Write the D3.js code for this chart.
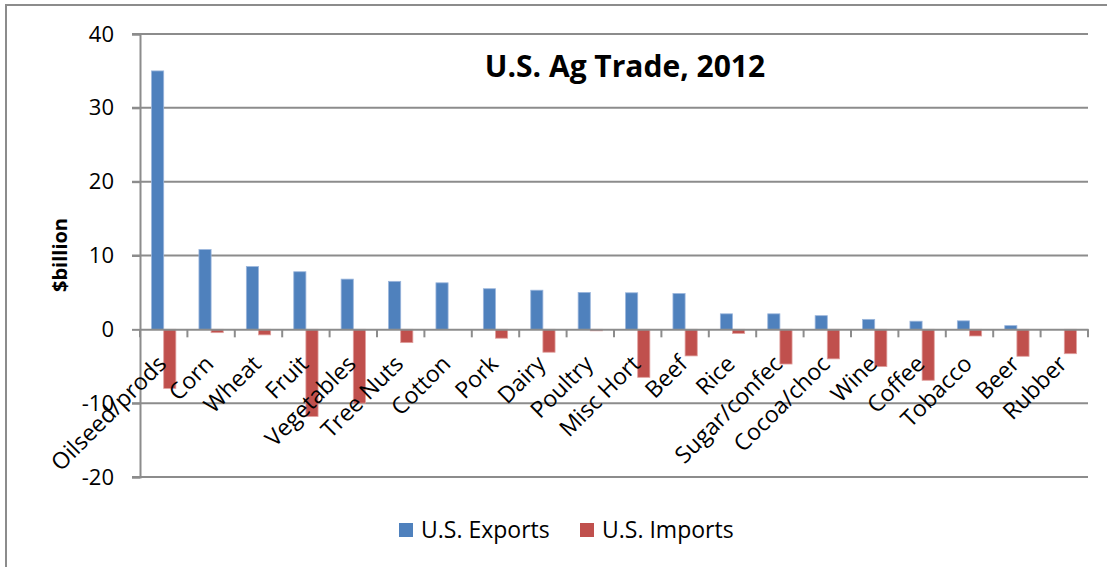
<!DOCTYPE html>
<html>
<head>
<meta charset="utf-8">
<script src="https://cdn.jsdelivr.net/npm/d3@7"></script>
<style>
  body { margin: 0; background: #fff; }
  text { font-family: "Open Sans", "Liberation Sans", sans-serif; fill: #000; }
</style>
</head>
<body>
<div id="chart"></div>
<script>
var categories = ["Oilseed/prods", "Corn", "Wheat", "Fruit", "Vegetables", "Tree Nuts", "Cotton",
    "Pork", "Dairy", "Poultry", "Misc Hort", "Beef", "Rice", "Sugar/confec", "Cocoa/choc",
    "Wine", "Coffee", "Tobacco", "Beer", "Rubber"];
var exports = [35.0, 10.8, 8.5, 7.8, 6.8, 6.5, 6.3, 5.5, 5.3, 5.0, 4.95, 4.85, 2.1, 2.1, 1.85, 1.35, 1.1, 1.15, 0.5, 0];
var imports = [-8.0, -0.45, -0.75, -11.8, -10.0, -1.8, 0, -1.2, -3.1, -0.2, -6.5, -3.6, -0.55, -4.7, -4.0, -5.05, -6.9, -0.9, -3.65, -3.3];
var yTicks = [-20, -10, 0, 10, 20, 30, 40];
var seriesNames = ["U.S. Exports", "U.S. Imports"];
var colors = ["#4F81BD", "#C0504D"];

var svgWidth = 1107;
var svgHeight = 567;
var margin = {top: 34, right: 19, bottom: 90, left: 140};
var width = svgWidth - margin.left - margin.right;
var height = 477 - margin.top;

var svg = d3.select("#chart")
    .append("svg")
    .attr("width", svgWidth)
    .attr("height", svgHeight);

// outer chart frame
svg.append("rect")
    .attr("x", 6).attr("y", 5)
    .attr("width", 1120).attr("height", 600)
    .attr("fill", "none")
    .attr("stroke", "#8c8c8c")
    .attr("stroke-width", 2);

var g = svg.append("g")
    .attr("transform", `translate(${margin.left}, ${margin.top})`);

var x = d3.scaleBand()
    .domain(categories)
    .range([0, width]);

var xInner = d3.scaleBand()
    .domain([0, 1])
    .range([0, x.bandwidth()])
    .paddingOuter(0.95)
    .paddingInner(0);

var y = d3.scaleLinear()
    .domain([-20, 40])
    .range([height, 0]);

// gridlines
g.append("g")
    .selectAll("line")
    .data(yTicks.filter(d => d !== 0))
    .enter()
    .append("line")
    .attr("x1", -8).attr("x2", width)
    .attr("y1", d => y(d)).attr("y2", d => y(d))
    .attr("stroke", "#8c8c8c")
    .attr("stroke-width", 2);

// y axis
var leftAxis = d3.axisLeft(y).tickValues(yTicks).tickSize(8).tickPadding(10)
    .tickFormat(d => String(d));
var yAxisG = g.append("g").call(leftAxis);
yAxisG.select(".domain").attr("stroke", "#8c8c8c").attr("stroke-width", 2);
yAxisG.selectAll(".tick line").attr("stroke", "#8c8c8c").attr("stroke-width", 2);
yAxisG.selectAll(".tick text")
    .style("font-size", "22px")
    .attr("x", -26)
    .attr("fill", "#000");

// bars
var series = [exports, imports];
series.forEach(function(vals, s) {
    g.append("g")
        .selectAll("rect")
        .data(categories)
        .enter()
        .append("rect")
        .attr("x", (d, i) => x(d) + xInner(s))
        .attr("width", xInner.bandwidth())
        .attr("y", (d, i) => y(Math.max(0, vals[i])))
        .attr("height", (d, i) => Math.abs(y(vals[i]) - y(0)))
        .attr("fill", colors[s])
        .attr("stroke", s === 0 ? "#9bb6dc" : "#e0a09e")
        .attr("stroke-width", 0.8);
});

// x axis at zero
var bottomAxis = d3.axisBottom(x).tickSize(0).tickFormat("");
var xAxisG = g.append("g")
    .attr("transform", `translate(0, ${y(0)})`)
    .call(bottomAxis);
xAxisG.select(".domain").attr("stroke", "#8c8c8c").attr("stroke-width", 2);

// category boundary ticks
var boundaries = categories.map(d => x(d)).concat([width]);
xAxisG.selectAll(".bound")
    .data(boundaries)
    .enter()
    .append("line")
    .attr("class", "bound")
    .attr("x1", d => d).attr("x2", d => d)
    .attr("y1", 0).attr("y2", 8)
    .attr("stroke", "#8c8c8c")
    .attr("stroke-width", 2);

// category labels
g.append("g")
    .selectAll("text")
    .data(categories)
    .enter()
    .append("text")
    .attr("transform", d => `translate(${x(d) + x.bandwidth() / 2 + 4}, ${y(0) + 36}) rotate(-45)`)
    .attr("text-anchor", "end")
    .style("font-size", "23px")
    .text(d => d);

// title
svg.append("text")
    .attr("x", 625)
    .attr("y", 77)
    .attr("text-anchor", "middle")
    .style("font-size", "30px")
    .style("font-weight", "bold")
    .text("U.S. Ag Trade, 2012");

// y axis title
svg.append("text")
    .attr("transform", "translate(67, 255) rotate(-90)")
    .attr("text-anchor", "middle")
    .style("font-size", "20px")
    .style("font-weight", "bold")
    .text("$billion");

// legend
var legend = svg.append("g");
var legendX = [399, 580];
seriesNames.forEach(function(name, i) {
    legend.append("rect")
        .attr("x", legendX[i]).attr("y", 523)
        .attr("width", 14).attr("height", 14)
        .attr("fill", colors[i]);
    legend.append("text")
        .attr("x", legendX[i] + 22).attr("y", 538)
        .style("font-size", "23px")
        .text(name);
});
</script>
</body>
</html>
